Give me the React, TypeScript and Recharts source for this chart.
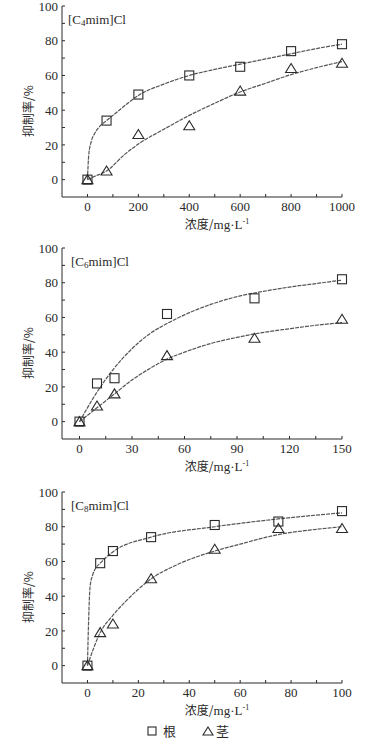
import React from "react";
import { ComposedChart, Line, Scatter, XAxis, YAxis } from "recharts";

// [C4mim]Cl
const c4X = [0, 75, 200, 400, 600, 800, 1000];
const c4Root = [0, 34, 49, 60, 65, 74, 78];
const c4Stem = [0, 5, 26, 31, 51, 64, 67];
const c4RootFitX = [0, 5, 15, 30, 50, 75, 100, 150, 200, 300, 400, 500, 600, 700, 800, 900, 1000];
const c4RootFitY = [0, 14, 22, 27, 31, 34, 37, 43, 48.5, 55, 60, 63.5, 66.5, 69.5, 72.5, 75.5, 78];
const c4StemFitX = [0, 30, 75, 150, 200, 300, 400, 500, 600, 700, 800, 900, 1000];
const c4StemFitY = [0, 2, 5, 15, 20.5, 29, 37, 44, 50.5, 55.5, 60.5, 64.5, 68];

// [C6mim]Cl
const c6X = [0, 10, 20, 50, 100, 150];
const c6Root = [0, 22, 25, 62, 71, 82];
const c6Stem = [0, 9, 16, 38, 48, 59];
const c6RootFitX = [0, 10, 20, 30, 40, 50, 60, 75, 90, 105, 120, 135, 150];
const c6RootFitY = [0, 17, 31, 42, 50.5, 56.5, 61.5, 67.5, 72, 75, 77.5, 79.5, 81.5];
const c6StemFitX = [0, 10, 20, 30, 40, 50, 60, 75, 90, 100, 120, 135, 150];
const c6StemFitY = [0, 8, 16, 24, 30.5, 36, 40, 45, 48.5, 50.5, 53.5, 55.5, 57];

// [C8mim]Cl
const c8X = [0, 5, 10, 25, 50, 75, 100];
const c8Root = [0, 59, 66, 74, 81, 83, 89];
const c8Stem = [0, 19, 24, 50, 67, 79, 79];
const c8RootFitX = [0, 0.5, 1, 2, 3, 5, 10, 25, 50, 75, 100];
const c8RootFitY = [0, 28, 45, 52, 55.5, 59, 65.5, 74, 80, 84.5, 88];
const c8StemFitX = [0, 5, 10, 15, 20, 25, 35, 50, 60, 75, 90, 100];
const c8StemFitY = [0, 19, 29, 37, 44, 50, 58, 66, 70, 75.5, 78.5, 80];

const yTicks = [0, 10, 20, 30, 40, 50, 60, 70, 80, 90, 100];

const zip = (xs: number[], ys: number[]) => xs.map((x, i) => ({ x, y: ys[i] }));
const range = (a: number, b: number, s: number) => {
  const out: number[] = [];
  for (let v = a; v <= b; v += s) out.push(v);
  return out;
};

const INK = "#2a2a2a";
const serif = "'Liberation Serif', 'DejaVu Serif', serif";
const cjk = "'Noto Sans CJK SC', sans-serif";

const Square = (p: any) => (
  <rect x={p.cx - 4.5} y={p.cy - 4.5} width={9} height={9} fill="none" stroke={INK} strokeWidth={1.1} />
);
const Triangle = (p: any) => (
  <path
    d={`M${p.cx},${p.cy - 5} L${p.cx + 5.5},${p.cy + 4} L${p.cx - 5.5},${p.cy + 4} Z`}
    fill="none"
    stroke={INK}
    strokeWidth={1.1}
  />
);

function Panel({
  top, sub, titleX, xMin, xMax, xStep, labelStep, x, root, stem, rootFit, stemFit,
}: {
  top: number; sub: string; titleX: number; xMin: number; xMax: number; xStep: number; labelStep: number;
  x: number[]; root: number[]; stem: number[]; rootFit: { x: number; y: number }[]; stemFit: { x: number; y: number }[];
}) {
  const tickStyle = { fontFamily: serif, fontSize: 13, fill: INK };
  return (
    <div style={{ position: "absolute", left: 0, top, width: 380, height: 240 }}>
      <ComposedChart width={380} height={238} margin={{ top: 10, right: 38, bottom: 7, left: 0 }}>
        <XAxis
          type="number"
          dataKey="x"
          domain={[xMin, xMax]}
          ticks={range(0, xMax, xStep)}
          interval={0}
          height={30}
          tickSize={-3}
          tickMargin={8}
          tickFormatter={(v: number) => (v % labelStep === 0 ? String(v) : "")}
          tick={tickStyle}
          axisLine={{ stroke: INK }}
          tickLine={{ stroke: INK }}
        />
        <YAxis
          type="number"
          dataKey="y"
          domain={[-10, 100]}
          ticks={yTicks}
          interval={0}
          width={62}
          tickSize={-3}
          tickMargin={7}
          tickFormatter={(v: number) => (v % 20 === 0 ? String(v) : "")}
          tick={tickStyle}
          axisLine={{ stroke: INK }}
          tickLine={{ stroke: INK }}
        />
        <Line data={rootFit} dataKey="y" type="monotone" dot={false} stroke="#555" strokeWidth={1.2} strokeDasharray="4 1" isAnimationActive={false} />
        <Line data={stemFit} dataKey="y" type="monotone" dot={false} stroke="#555" strokeWidth={1.2} strokeDasharray="4 1" isAnimationActive={false} />
        <Scatter data={zip(x, root)} dataKey="y" shape={Square} isAnimationActive={false} />
        <Scatter data={zip(x, stem)} dataKey="y" shape={Triangle} isAnimationActive={false} />
      </ComposedChart>
      <div style={{ position: "absolute", left: titleX, top: 16, fontFamily: serif, fontSize: 13, color: INK, lineHeight: "16px" }}>
        [C<sub style={{ fontSize: 9, verticalAlign: "-2px" }}>{sub}</sub>mim]Cl
      </div>
      <div
        style={{
          position: "absolute", left: 27, top: 115, transform: "translate(-50%, -50%) rotate(-90deg)",
          fontFamily: cjk, fontSize: 12, color: INK, whiteSpace: "nowrap",
        }}
      >
        抑制率/%
      </div>
      <div
        style={{
          position: "absolute", left: 217, top: 228, transform: "translate(-50%, -50%)",
          fontFamily: cjk, fontSize: 12, color: INK, whiteSpace: "nowrap",
        }}
      >
        浓度/<span style={{ fontFamily: serif, fontSize: 13 }}>mg·L<sup style={{ fontSize: 8 }}>-1</sup></span>
      </div>
    </div>
  );
}

export default function App() {
  return (
    <div style={{ position: "absolute", left: 0, top: 0, width: 380, height: 741, background: "#fff" }}>
      <Panel top={-4} sub="4" titleX={68} xMin={-100} xMax={1000} xStep={100} labelStep={200}
        x={c4X} root={c4Root} stem={c4Stem} rootFit={zip(c4RootFitX, c4RootFitY)} stemFit={zip(c4StemFitX, c4StemFitY)} />
      <Panel top={238} sub="6" titleX={71} xMin={-10} xMax={150} xStep={15} labelStep={30}
        x={c6X} root={c6Root} stem={c6Stem} rootFit={zip(c6RootFitX, c6RootFitY)} stemFit={zip(c6StemFitX, c6StemFitY)} />
      <Panel top={482} sub="8" titleX={71} xMin={-10} xMax={100} xStep={10} labelStep={20}
        x={c8X} root={c8Root} stem={c8Stem} rootFit={zip(c8RootFitX, c8RootFitY)} stemFit={zip(c8StemFitX, c8StemFitY)} />
      <div style={{ position: "absolute", left: 147, top: 721, display: "flex", alignItems: "center", fontFamily: cjk, fontSize: 13, color: INK }}>
        <svg width={10} height={10}><rect x={1} y={1} width={8} height={8} fill="none" stroke={INK} strokeWidth={1.1} /></svg>
        <span style={{ marginLeft: 6 }}>根</span>
        <svg width={12} height={10} style={{ marginLeft: 26 }}><path d="M6,1 L11,9 L1,9 Z" fill="none" stroke={INK} strokeWidth={1.1} /></svg>
        <span style={{ marginLeft: 2 }}>茎</span>
      </div>
    </div>
  );
}
